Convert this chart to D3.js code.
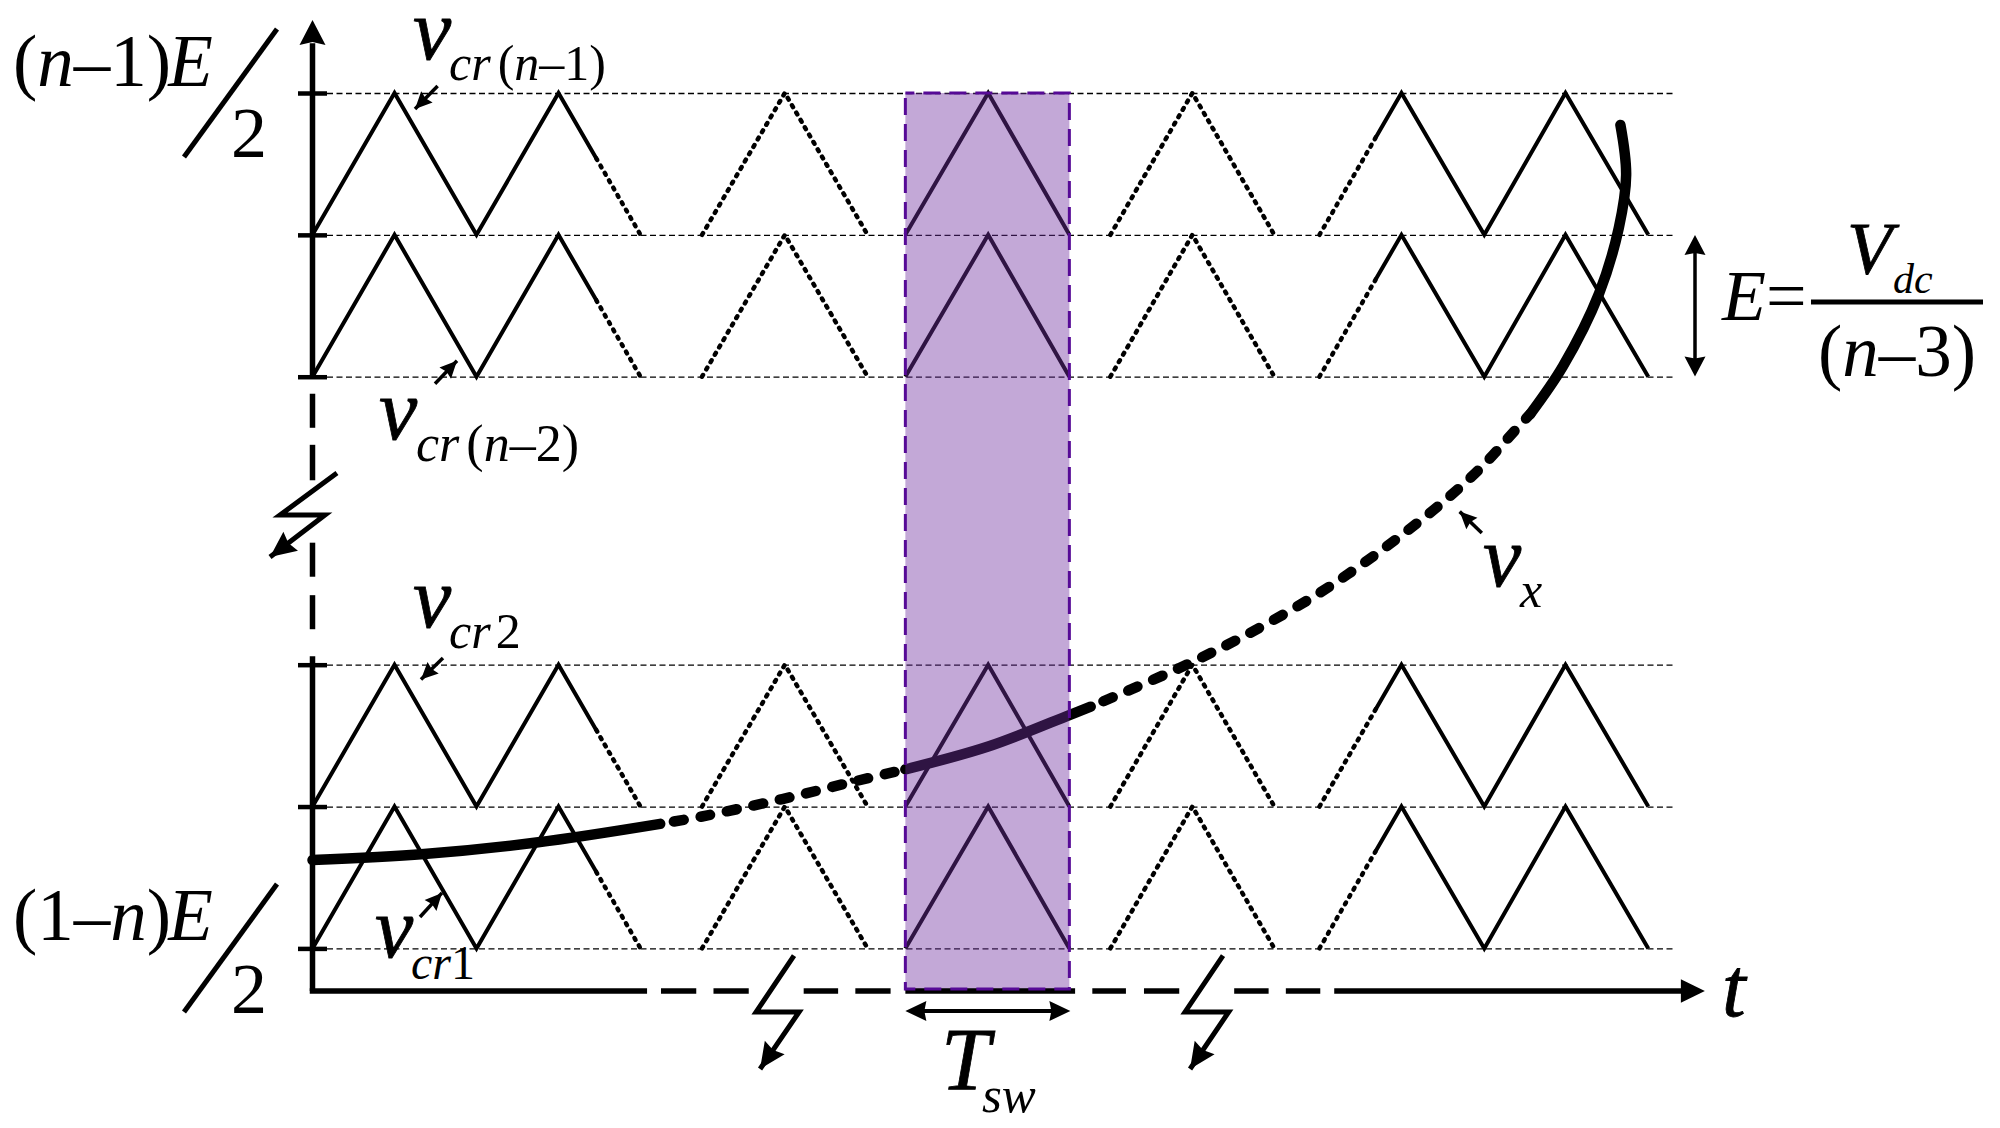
<!DOCTYPE html>
<html>
<head>
<meta charset="utf-8">
<script src="https://cdnjs.cloudflare.com/ajax/libs/d3/7.8.5/d3.min.js"></script>
<style>
html, body { margin: 0; padding: 0; background: #fff; }
svg { display: block; }
text { font-family: "Liberation Serif", "Times New Roman", serif; fill: #000; }
</style>
</head>
<body>
<svg id="chart" width="2000" height="1128"></svg>
<script>
// t is in half carrier periods, v is in units of E (the axis is broken, so v is only a drawing unit)
var carrierLevels = [0, 1, 4.03, 5.03];
var tickLevels = [0, 1, 2, 4.03, 5.03, 6.03];

// [t, fraction of E above the level]
var carrierSolid = [
    [[0, 0], [1, 1], [2, 0], [3, 1], [3.46, 0.54]],
    [[7.23, 0], [8.24, 1], [9.23, 0]],
    [[12.97, 0.69], [13.28, 1], [14.29, 0], [15.28, 1], [16.29, 0]]
];
var carrierDotted = [
    [[3.46, 0.54], [4, 0]],
    [[4.75, 0], [5.76, 1], [6.77, 0]],
    [[9.73, 0], [10.73, 1], [11.73, 0]],
    [[12.28, 0], [12.97, 0.69]]
];

// modulating signal
var vxSolidA = [[0, 0.623], [1.36, 0.665], [2.73, 0.746], [4.24, 0.878]];
var vxDashedA = [[4.24, 0.878], [4.75, 0.93], [5.73, 1.053], [6.63, 1.18], [7.23, 1.262]];
var vxSolidB = [[7.23, 1.262], [8.24, 1.423], [9.23, 1.645], [9.49, 1.704]];
var vxDashedB = [[9.49, 1.704], [10.58, 1.979], [11.42, 2.22], [12.24, 2.491], [12.77, 2.696], [13.26, 2.904],
    [13.76, 3.133], [14.25, 3.389], [14.68, 3.661], [14.85, 3.767]];
var vxSolidC = [[14.85, 3.767], [15.25, 4.105], [15.69, 4.617], [15.93, 5.078], [16.02, 5.452], [15.95, 5.805]];

var tswBand = [7.23, 9.23];
var gridEnd = 16.62;

var xAxisRuns = [[0, 4.08], [4.25, 4.68], [4.89, 5.32], [5.99, 6.41], [6.62, 7.05], [7.23, 9.3],
    [9.51, 9.92], [10.14, 10.57], [11.24, 11.66], [11.87, 12.29], [12.46, 16.8]];
var yAxisRuns = [[6.38, 4.03], [3.91, 3.67], [3.55, 3.3], [2.86, 2.62], [2.49, 2.25], [2.06, -0.3]];
var xAxisV = -0.3;

// axis break marks
var breakMarks = [
    [[0.298, 3.351], [-0.396, 3.055], [0.152, 3.055], [-0.518, 2.759]],
    [[5.872, -0.051], [5.41, -0.448], [5.934, -0.448], [5.458, -0.85]],
    [[11.104, -0.051], [10.641, -0.448], [11.173, -0.448], [10.702, -0.85]]
];

// label pointers, [from, tip]
var pointers = [
    [[1.526, 6.08], [1.25, 5.917]],
    [[1.494, 3.98], [1.762, 4.142]],
    [[1.591, 2.047], [1.323, 1.895]],
    [[1.311, 0.221], [1.579, 0.391]],
    [[14.26, 2.928], [13.99, 3.079]]
];

var x = d3.scaleLinear().domain([0, 20]).range([312.5, 1952.5]);
var y = d3.scaleLinear().domain([0, 6.03]).range([948.4, 93]);

var svg = d3.select('#chart');
var line = d3.line().x(d => x(d[0])).y(d => y(d[1]));
var curve = d3.line().x(d => x(d[0])).y(d => y(d[1])).curve(d3.curveCatmullRom.alpha(0.5));

function head(tip, from, len, half, notch) {
    var a = Math.atan2(from[1] - tip[1], from[0] - tip[0]);
    var ca = Math.cos(a), sa = Math.sin(a);
    var pts = [
        tip,
        [tip[0] + len * ca - half * sa, tip[1] + len * sa + half * ca],
        [tip[0] + (len - notch) * ca, tip[1] + (len - notch) * sa],
        [tip[0] + len * ca + half * sa, tip[1] + len * sa - half * ca]
    ];
    svg.append('polygon').attr('points', pts.join(' ')).attr('fill', '#000');
}

function seg(p0, p1, width) {
    svg.append('line')
        .attr('x1', p0[0]).attr('y1', p0[1])
        .attr('x2', p1[0]).attr('y2', p1[1])
        .attr('stroke', '#000').attr('stroke-width', width);
}

// runs are [text, size, italic, dx]
function label(px, py, runs) {
    var t = svg.append('text').attr('x', px).attr('y', py);
    runs.forEach(function (r) {
        var s = t.append('tspan').text(r[0]).attr('font-size', r[1]);
        if (r[2]) {
            s.attr('font-style', 'italic');
            if (r[1] >= 74) s.attr('stroke', '#000').attr('stroke-width', 0.8);
        }
        if (r[3]) s.attr('dx', r[3]);
    });
}

// dashed level lines
svg.append('g')
    .attr('transform', 'translate(327,0)')
    .call(d3.axisLeft(y).tickValues(tickLevels).tickSize(-(x(gridEnd) - 327)).tickFormat(''))
    .call(g => g.select('.domain').remove())
    .call(g => g.selectAll('.tick line')
        .attr('stroke', '#000').attr('stroke-width', 1.3).attr('stroke-dasharray', '6 3.5'));

// carriers
carrierLevels.forEach(function (level) {
    carrierSolid.forEach(function (run) {
        svg.append('path')
            .attr('d', line(run.map(d => [d[0], level + d[1]])))
            .attr('fill', 'none').attr('stroke', '#000').attr('stroke-width', 4);
    });
    carrierDotted.forEach(function (run) {
        svg.append('path')
            .attr('d', line(run.map(d => [d[0], level + d[1]])))
            .attr('fill', 'none').attr('stroke', '#000').attr('stroke-width', 4.5)
            .attr('stroke-linecap', 'round').attr('stroke-linejoin', 'round')
            .attr('stroke-dasharray', '2 6.5');
    });
});

// vx
[vxSolidA, vxSolidB, vxSolidC].forEach(function (run) {
    svg.append('path').attr('d', curve(run))
        .attr('fill', 'none').attr('stroke', '#000').attr('stroke-width', 10.5).attr('stroke-linecap', 'round');
});
[vxDashedA, vxDashedB].forEach(function (run) {
    svg.append('path').attr('d', curve(run))
        .attr('fill', 'none').attr('stroke', '#000').attr('stroke-width', 10.5)
        .attr('stroke-linecap', 'round').attr('stroke-dasharray', '10 17').attr('stroke-dashoffset', -14);
});

// switching period band
svg.append('rect')
    .attr('x', x(tswBand[0])).attr('y', y(6.03))
    .attr('width', x(tswBand[1]) - x(tswBand[0])).attr('height', y(xAxisV) - y(6.03))
    .attr('fill', '#7030a0').attr('fill-opacity', 0.42);

// y axis
yAxisRuns.forEach(function (r) {
    seg([x(0), y(r[0])], [x(0), y(r[1])], 5.5);
});
head([x(0), 20], [x(0), 60], 25, 13, 3);
svg.append('g')
    .attr('transform', 'translate(327,0)')
    .call(d3.axisLeft(y).tickValues(tickLevels).tickSize(29).tickFormat(''))
    .call(g => g.select('.domain').remove())
    .call(g => g.selectAll('.tick line').attr('stroke', '#000').attr('stroke-width', 4.5));

// x axis
xAxisRuns.forEach(function (r) {
    seg([x(r[0]) - (r[0] === 0 ? 2.75 : 0), y(xAxisV)], [x(r[1]), y(xAxisV)], 5.5);
});
head([x(16.98), y(xAxisV)], [x(16), y(xAxisV)], 24, 11.7, 0);

// band outline goes over the axis
svg.append('rect')
    .attr('x', x(tswBand[0])).attr('y', y(6.03))
    .attr('width', x(tswBand[1]) - x(tswBand[0])).attr('height', y(xAxisV) - y(6.03) - 2)
    .attr('fill', 'none').attr('stroke', '#560a96').attr('stroke-width', 3)
    .attr('stroke-dasharray', '17 9').attr('stroke-dashoffset', 8);

// break marks
breakMarks.forEach(function (m) {
    var pts = m.map(d => [x(d[0]), y(d[1])]);
    svg.append('path').attr('d', d3.line()(pts))
        .attr('fill', 'none').attr('stroke', '#000').attr('stroke-width', 5).attr('stroke-linejoin', 'miter');
    head(pts[3], pts[2], 26, 12, 3);
});

// pointers
pointers.forEach(function (p) {
    var from = [x(p[0][0]), y(p[0][1])], tip = [x(p[1][0]), y(p[1][1])];
    seg(from, tip, 3.5);
    head(tip, from, 17, 8, 2);
});

// Tsw span
seg([x(tswBand[0]) + 6, 1011], [x(tswBand[1]) - 6, 1011], 4);
head([x(tswBand[0]), 1011], [x(tswBand[1]), 1011], 21, 10, 2);
head([x(tswBand[1]) + 1, 1011], [x(tswBand[0]), 1011], 21, 10, 2);

// E span
seg([1695, 245], [1695, 366], 3.5);
head([1695, 235], [1695, 376], 20, 10.5, 2);
head([1695, 376.5], [1695, 235], 20, 10.5, 2);

// axis value labels
label(13, 86, [['(', 73], ['n', 73, true], ['\u20131)', 73], ['E', 73, true, -3]]);
seg([277, 29], [184, 157], 5);
label(231, 157, [['2', 72]]);
label(13, 940, [['(1\u2013', 73], ['n', 73, true], [')', 73], ['E', 73, true, -3]]);
seg([277, 884], [184, 1012], 5);
label(231, 1013, [['2', 72]]);

// signal labels
label(413, 59, [['v', 86, true]]);
label(449, 80, [['cr', 50, true], ['(', 50, false, 7], ['n', 50, true], ['\u20131)', 50]]);
label(379, 439, [['v', 86, true]]);
label(416, 461, [['cr', 52, true], ['(', 52, false, 7], ['n', 52, true], ['\u20132)', 52]]);
label(413, 627, [['v', 86, true]]);
label(449, 648, [['cr', 50, true], ['2', 50, false, 5]]);
label(375, 957, [['v', 86, true]]);
label(411, 979, [['cr', 48, true], ['1', 48]]);
label(1483, 586, [['v', 86, true]]);
label(1520, 607, [['x', 50, true]]);

label(1722, 1016, [['t', 85, true]]);
label(941, 1089, [['T', 88, true]]);
label(982, 1112, [['sw', 51, true]]);

// E = Vdc / (n-3)
label(1722, 320, [['E', 72, true], ['=', 72]]);
seg([1811, 302], [1983, 302], 5);
label(1847, 274, [['V', 74, true]]);
label(1893, 293, [['dc', 42, true]]);
label(1818, 376, [['(', 73], ['n', 73, true], ['\u20133)', 73]]);
</script>
</body>
</html>
